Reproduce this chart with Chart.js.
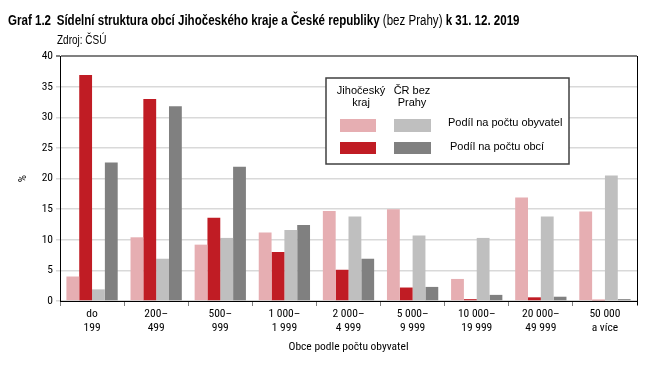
<!DOCTYPE html>
<html>
<head>
<meta charset="utf-8">
<script src="https://cdn.jsdelivr.net/npm/chart.js@4/dist/chart.umd.min.js"></script>
<style>
  html, body { margin: 0; padding: 0; background: #fff; }
  body { width: 665px; height: 369px; position: relative; overflow: hidden; }
  .title { position: absolute; left: 8px; top: 12px; font-family: 'Liberation Sans', Arial, sans-serif; font-size: 14px; color: #000; white-space: nowrap; transform: scaleX(0.825); transform-origin: 0 0; }
  .title b { font-weight: bold; }
  .title .num { display: inline-block; width: 59px; }
  .src { position: absolute; left: 57px; top: 33px; font-family: 'Liberation Sans', Arial, sans-serif; font-size: 12.5px; color: #000; transform: scaleX(0.8); transform-origin: 0 0; }
  #wrap { position: absolute; left: 0; top: 0; width: 665px; height: 369px; }
</style>
</head>
<body>
<div id="wrap"><canvas id="chart"></canvas></div>
<div class="title"><b><span class="num">Graf 1.2</span>Sídelní struktura obcí Jihočeského kraje a České republiky</b> (bez Prahy) <b>k 31. 12. 2019</b></div>
<div class="src">Zdroj: ČSÚ</div>
<script>
// categories (obce podle počtu obyvatel)
const categories = [
  ['do', '199'], ['200–', '499'], ['500–', '999'], ['1 000–', '1 999'], ['2 000–', '4 999'],
  ['5 000–', '9 999'], ['10 000–', '19 999'], ['20 000–', '49 999'], ['50 000', 'a více']
];

// values in %
const jcObyvatel = [4.0, 10.4, 9.2, 11.2, 14.7, 15.0, 3.6, 16.9, 14.6];
const jcObci     = [36.9, 33.0, 13.6, 8.0, 5.1, 2.2, 0.3, 0.6, 0.2];
const crObyvatel = [1.9, 6.9, 10.3, 11.6, 13.8, 10.7, 10.3, 13.8, 20.5];
const crObci     = [22.6, 31.8, 21.9, 12.4, 6.9, 2.3, 1.0, 0.7, 0.3];

const yTicks = [0, 5, 10, 15, 20, 25, 30, 35, 40];

const FONT = "'Roboto Condensed', 'Liberation Sans', Arial, sans-serif";
const LFONT = "'Liberation Sans', Arial, sans-serif";
const PINK = '#e6aeb2', RED = '#c01c24', LGRAY = '#bfbfbf', DGRAY = '#808080';

// custom legend box like in the original (two columns of swatches)
const legendBox = {
  id: 'legendBox',
  afterDraw(chart) {
    const ctx = chart.ctx;
    const a = chart.chartArea;
    const x0 = a.left + 266, y0 = a.top + 22;
    ctx.save();
    ctx.fillStyle = '#fff';
    ctx.fillRect(x0, y0, 243, 86);
    ctx.strokeStyle = '#404040';
    ctx.lineWidth = 1.5;
    ctx.strokeRect(x0, y0, 243, 86);

    ctx.font = '11px ' + LFONT;
    ctx.fillStyle = '#000';
    ctx.textAlign = 'center';
    ctx.textBaseline = 'middle';
    ctx.fillText('Jihočeský', x0 + 35, y0 + 13);
    ctx.fillText('kraj', x0 + 35, y0 + 25);
    ctx.fillText('ČR bez', x0 + 86, y0 + 13);
    ctx.fillText('Prahy', x0 + 86, y0 + 25);

    const ds = chart.data.datasets;
    ctx.fillStyle = ds[0].backgroundColor; ctx.fillRect(x0 + 14, y0 + 41, 36, 13);
    ctx.fillStyle = ds[2].backgroundColor; ctx.fillRect(x0 + 68, y0 + 41, 37, 13);
    ctx.fillStyle = ds[1].backgroundColor; ctx.fillRect(x0 + 14, y0 + 64, 36, 12);
    ctx.fillStyle = ds[3].backgroundColor; ctx.fillRect(x0 + 68, y0 + 64, 37, 12);

    ctx.fillStyle = '#000';
    ctx.textAlign = 'left';
    ctx.fillText('Podíl na počtu obyvatel', x0 + 122, y0 + 45);
    ctx.fillText('Podíl na počtu obcí', x0 + 124, y0 + 69);

    // right border of plot
    ctx.strokeStyle = '#000';
    ctx.lineWidth = 1;
    ctx.beginPath();
    ctx.moveTo(a.right + 0.5, a.top);
    ctx.lineTo(a.right + 0.5, a.bottom + 4);
    ctx.stroke();
    ctx.restore();
  }
};

new Chart(document.getElementById('chart'), {
  type: 'bar',
  data: {
    labels: categories,
    datasets: [
      { label: 'Jihočeský kraj – podíl na počtu obyvatel', data: jcObyvatel, backgroundColor: PINK },
      { label: 'Jihočeský kraj – podíl na počtu obcí', data: jcObci, backgroundColor: RED },
      { label: 'ČR bez Prahy – podíl na počtu obyvatel', data: crObyvatel, backgroundColor: LGRAY },
      { label: 'ČR bez Prahy – podíl na počtu obcí', data: crObci, backgroundColor: DGRAY }
    ]
  },
  options: {
    responsive: true,
    maintainAspectRatio: false,
    animation: false,
    datasets: { bar: { categoryPercentage: 0.8, barPercentage: 1.0 } },
    layout: { padding: { top: 56, right: 28, left: 0, bottom: 0 } },
    plugins: { legend: { display: false }, tooltip: { enabled: false } },
    scales: {
      y: {
        min: 0, max: 40,
        afterBuildTicks: s => { s.ticks = yTicks.map(v => ({ value: v })); },
        afterFit: s => { s.width = 60; },
        ticks: { color: '#000', font: { family: FONT, size: 11.5 }, padding: 3 },
        grid: {
          tickLength: 4,
          color: c => c.tick && c.tick.value === 40 ? '#808080' : '#d9d9d9',
          lineWidth: c => c.tick && c.tick.value === 40 ? 2 : 1.5
        },
        border: { color: '#000', width: 1 },
        title: { display: true, text: '%', color: '#000', font: { family: FONT, size: 11.5 }, padding: { top: 16, bottom: 0 } }
      },
      x: {
        afterFit: s => { s.height = 68; },
        ticks: { color: '#000', font: { family: FONT, size: 11.5, lineHeight: 1.2 }, padding: 1, maxRotation: 0, autoSkip: false },
        grid: { offset: true, drawOnChartArea: false, tickLength: 5, color: '#808080' },
        border: { color: '#000', width: 1 },
        title: { display: true, text: 'Obce podle počtu obyvatel', color: '#000', font: { family: FONT, size: 11.5 }, padding: { top: 0, bottom: 15 } }
      }
    }
  },
  plugins: [legendBox]
});
</script>
</body>
</html>
